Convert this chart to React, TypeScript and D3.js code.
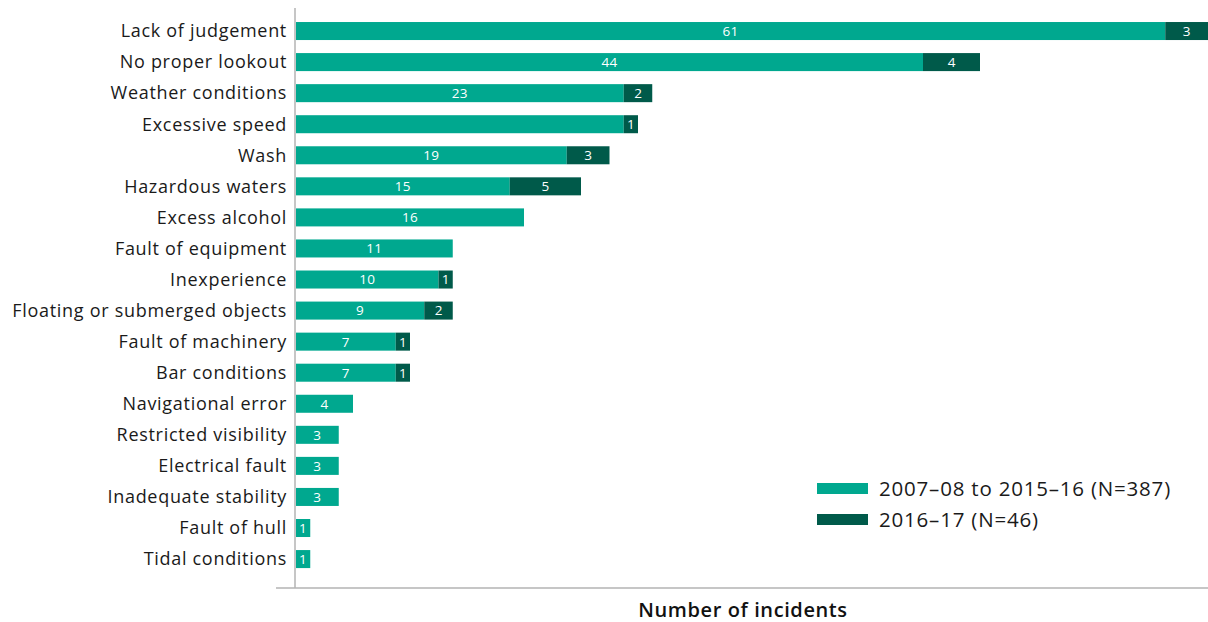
import React from "react";
import * as d3 from "d3";

const categories = [
  "Lack of judgement",
  "No proper lookout",
  "Weather conditions",
  "Excessive speed",
  "Wash",
  "Hazardous waters",
  "Excess alcohol",
  "Fault of equipment",
  "Inexperience",
  "Floating or submerged objects",
  "Fault of machinery",
  "Bar conditions",
  "Navigational error",
  "Restricted visibility",
  "Electrical fault",
  "Inadequate stability",
  "Fault of hull",
  "Tidal conditions",
];
const earlier = [61, 44, 23, 23, 19, 15, 16, 11, 10, 9, 7, 7, 4, 3, 3, 3, 1, 1];
const recent = [3, 4, 2, 1, 3, 5, 0, 0, 1, 2, 1, 1, 0, 0, 0, 0, 0, 0];
const hiddenEarlierLabels = ["Excessive speed"];
const seriesNames = ["2007–08 to 2015–16 (N=387)", "2016–17 (N=46)"];
const xTitle = "Number of incidents";

const W = 1208;
const H = 622;
const C1 = "#00a88f";
const C2 = "#005a4a";
const AX = "#b3b3b3";
const FONT = "'Open Sans', 'Noto Sans', sans-serif";

export default function App() {
  const x = d3.scaleLinear().domain([0, 64]).range([296, 1208]);
  const y = d3.scaleBand<string>().domain(categories).range([15.5, 574.6]).paddingInner(0.42).paddingOuter(0.21);
  const bh = y.bandwidth();
  return (
    <svg width={W} height={H} style={{ position: "absolute", left: 0, top: 0, background: "#fff" }} fontFamily={FONT}>
      {categories.map((c, i) => {
        const y0 = y(c)!;
        const a = earlier[i];
        const b = recent[i];
        const xa = x(a);
        const xb = x(a + b);
        return (
          <g key={c}>
            <text x={287} y={y0 + bh / 2} dy="0.35em" textAnchor="end" fontSize={18} letterSpacing={0.7} fill="#1a1a1a">
              {c}
            </text>
            <rect x={x(0)} y={y0} width={xa - x(0)} height={bh} fill={C1} />
            {b > 0 && <rect x={xa} y={y0} width={xb - xa} height={bh} fill={C2} />}
            {!hiddenEarlierLabels.includes(c) && (
              <text x={(x(0) + xa) / 2} y={y0 + bh / 2} dy="0.36em" textAnchor="middle" fontSize={13.5} letterSpacing={0.4} fill="#fff">
                {a}
              </text>
            )}
            {b > 0 && (
              <text x={(xa + xb) / 2} y={y0 + bh / 2} dy="0.36em" textAnchor="middle" fontSize={13.5} fill="#fff">
                {b}
              </text>
            )}
          </g>
        );
      })}
      <line x1={295} x2={295} y1={8} y2={588} stroke={AX} strokeWidth={1.5} />
      <line x1={276} x2={W} y1={588} y2={588} stroke={AX} strokeWidth={1.5} />
      <text x={743} y={611} dy="0.3em" textAnchor="middle" fontSize={20} fontWeight={600} letterSpacing={0.6} fill="#111">
        {xTitle}
      </text>
      {seriesNames.map((s, i) => (
        <g key={s} transform={`translate(817, ${483 + i * 31})`}>
          <rect x={0} y={0} width={51} height={11} fill={i === 0 ? C1 : C2} />
          <text x={62} y={5.5} dy="0.35em" fontSize={20.5} letterSpacing={0.8} fill="#1a1a1a">
            {s}
          </text>
        </g>
      ))}
    </svg>
  );
}
